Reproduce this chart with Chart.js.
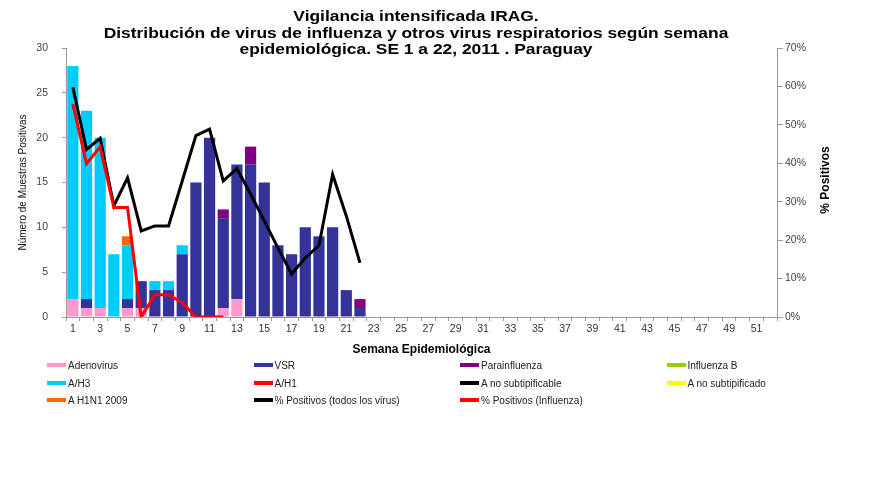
<!DOCTYPE html>
<html>
<head>
<meta charset="utf-8">
<script src="https://cdn.jsdelivr.net/npm/chart.js@4.4.0/dist/chart.umd.min.js"></script>
<style>
  body { margin: 0; background: #fff; font-family: "Liberation Sans", Arial, sans-serif; }
  #wrap { position: relative; width: 873px; height: 490px; }
  #title { position: absolute; left: 0; top: 8px; width: 832px; text-align: center;
           font-weight: bold; font-size: 15px; line-height: 16.5px; color: #000;
           transform: scaleX(1.16); transform-origin: 416px 0; }
  #legend { position: absolute; left: 47px; top: 360px; width: 826px; font-size: 10px; color: #222; }
  .item { position: absolute; height: 12px; line-height: 12px; white-space: nowrap; }
  .sw { display: inline-block; width: 19px; height: 4px; vertical-align: middle; margin-right: 2px; position: relative; top: -1px; }
</style>
</head>
<body>
<div id="wrap">
  <div id="title">
    <div>Vigilancia intensificada IRAG.</div>
    <div>Distribución de virus de influenza y otros virus respiratorios según semana</div>
    <div>epidemiológica. SE 1 a 22, 2011 . Paraguay</div>
  </div>
  <canvas id="chart" width="873" height="490"></canvas>
  <div id="legend"></div>
</div>
<script>
const weeks = ['1','2','3','4','5','6','7','8','9','10','11','12','13','14','15','16','17','18','19','20',
  '21','22','23','24','25','26','27','28','29','30','31','32','33','34','35','36','37','38','39','40',
  '41','42','43','44','45','46','47','48','49','50','51','52'];

const adenovirus        = [2, 1, 1, 0, 1, 1, 0, 0, 0, 0, 0, 1, 2, 0, 0, 0, 0, 0, 0, 0, 0, 0];
const vsr               = [0, 1, 0, 0, 1, 3, 3, 3, 7, 15, 20, 10, 15, 17, 15, 8, 7, 10, 9, 10, 3, 1];
const parainfluenza     = [0, 0, 0, 0, 0, 0, 0, 0, 0, 0, 0, 1, 0, 2, 0, 0, 0, 0, 0, 0, 0, 1];
const influenzaB        = [0, 0, 0, 0, 0, 0, 0, 0, 0, 0, 0, 0, 0, 0, 0, 0, 0, 0, 0, 0, 0, 0];
const aH3               = [26, 21, 19, 7, 6, 0, 1, 1, 1, 0, 0, 0, 0, 0, 0, 0, 0, 0, 0, 0, 0, 0];
const aH1               = [0, 0, 0, 0, 0, 0, 0, 0, 0, 0, 0, 0, 0, 0, 0, 0, 0, 0, 0, 0, 0, 0];
const aNoSubtipificable = [0, 0, 0, 0, 0, 0, 0, 0, 0, 0, 0, 0, 0, 0, 0, 0, 0, 0, 0, 0, 0, 0];
const aNoSubtipificado  = [0, 0, 0, 0, 0, 0, 0, 0, 0, 0, 0, 0, 0, 0, 0, 0, 0, 0, 0, 0, 0, 0];
const aH1N12009         = [0, 0, 0, 0, 1, 0, 0, 0, 0, 0, 0, 0, 0, 0, 0, 0, 0, 0, 0, 0, 0, 0];

const pctTodos     = [59.8, 43.6, 46.5, 28.9, 36.2, 22.4, 23.7, 23.7, 35.4, 47.2, 48.9, 35.4,
                      38.6, 32, 25, 18, 11.2, 15.4, 18.6, 37.1, 26.3, 14.1];
const pctInfluenza = [55.4, 39.9, 44.3, 28.5, 28.5, 0, 5.8, 5.8, 3.7, 0, 0, 0];

const leftTicks = [0, 5, 10, 15, 20, 25, 30];
const rightTicks = [0, 10, 20, 30, 40, 50, 60, 70];

function bar(label, data, color) {
  return { type: 'bar', label, data, backgroundColor: color, yAxisID: 'y', order: 2,
           barPercentage: 0.82, categoryPercentage: 1, borderWidth: 0 };
}
function line(label, data, color) {
  return { type: 'line', label, data, borderColor: color, backgroundColor: color, yAxisID: 'y1',
           borderWidth: 3, pointRadius: 0, tension: 0, fill: false, stack: 'l_' + label };
}

const datasets = [
  bar('Adenovirus', adenovirus, '#ff99cc'),
  bar('VSR', vsr, '#333399'),
  bar('Parainfluenza', parainfluenza, '#800080'),
  bar('Influenza  B', influenzaB, '#99cc00'),
  bar('A/H3', aH3, '#00ccff'),
  bar('A/H1', aH1, '#ff0000'),
  bar('A no subtipificable', aNoSubtipificable, '#000000'),
  bar('A no subtipificado', aNoSubtipificado, '#ffff00'),
  bar('A H1N1 2009', aH1N12009, '#ff6600'),
  Object.assign(line('% Positivos (todos los virus)', pctTodos, '#000000'), { order: 1 }),
  Object.assign(line('% Positivos (Influenza)', pctInfluenza, '#ff0000'), { order: 0 })
];

const rightTitle = {
  id: 'rightTitle',
  afterDraw(chart) {
    const ctx = chart.ctx;
    ctx.save();
    ctx.translate(826, 180);
    ctx.rotate(-Math.PI / 2);
    ctx.font = 'bold 12px "Liberation Sans", Arial';
    ctx.fillStyle = '#000';
    ctx.textAlign = 'center';
    ctx.textBaseline = 'middle';
    ctx.fillText('% Positivos', 0, 0);
    ctx.restore();
  }
};

const tickFont = { family: '"Liberation Sans", Arial', size: 10.5 };

const chart = new Chart(document.getElementById('chart'), {
  data: { labels: weeks, datasets },
  options: {
    responsive: false,
    animation: false,
    layout: { padding: { top: 48, bottom: 133, left: 0, right: 0 } },
    plugins: { legend: { display: false }, tooltip: { enabled: false }, title: { display: false } },
    scales: {
      x: {
        stacked: true,
        offset: true,
        grid: { display: true, drawOnChartArea: false, offset: true, tickLength: 4, color: '#999' },
        border: { color: '#999' },
        ticks: {
          autoSkip: false, maxRotation: 0, color: '#333', font: tickFont, padding: 2,
          callback: (v, i) => (i % 2 === 0 ? weeks[i] : '')
        },
        title: { display: true, text: 'Semana Epidemiológica', color: '#000',
                 font: { family: '"Liberation Sans", Arial', size: 12, weight: 'bold' }, padding: { top: 4, bottom: 0 } },
        afterFit: s => { s.height = 40; }
      },
      y: {
        stacked: true,
        min: 0, max: 30,
        afterBuildTicks: s => { s.ticks = leftTicks.map(v => ({ value: v })); },
        grid: { display: true, drawOnChartArea: false, tickLength: 4, color: '#999' },
        border: { color: '#999' },
        ticks: { color: '#444', font: tickFont, padding: 14 },
        title: { display: true, text: 'Número de Muestras Positivas', color: '#111',
                 font: { family: '"Liberation Sans", Arial', size: 10 }, padding: { top: 17, bottom: 0 } },
        afterFit: s => { s.width = 66; }
      },
      y1: {
        position: 'right',
        min: 0, max: 70,
        afterBuildTicks: s => { s.ticks = rightTicks.map(v => ({ value: v })); },
        grid: { display: true, drawOnChartArea: false, tickLength: 6, color: '#999' },
        border: { color: '#999' },
        ticks: { color: '#444', font: tickFont, padding: 2, callback: v => v + '%' },
        afterFit: s => { s.width = 96; }
      }
    }
  },
  plugins: [rightTitle]
});

// legend in 4 columns, built from the chart datasets
const legend = document.getElementById('legend');
chart.data.datasets.forEach((ds, i) => {
  const col = i % 4, row = Math.floor(i / 4);
  const el = document.createElement('div');
  el.className = 'item';
  el.style.left = (col * 206.5) + 'px';
  el.style.top = (row * 17.5) + 'px';
  const color = ds.type === 'line' ? ds.borderColor : ds.backgroundColor;
  el.innerHTML = '<span class="sw" style="background:' + color + '"></span>' + ds.label;
  legend.appendChild(el);
});
</script>
</body>
</html>
